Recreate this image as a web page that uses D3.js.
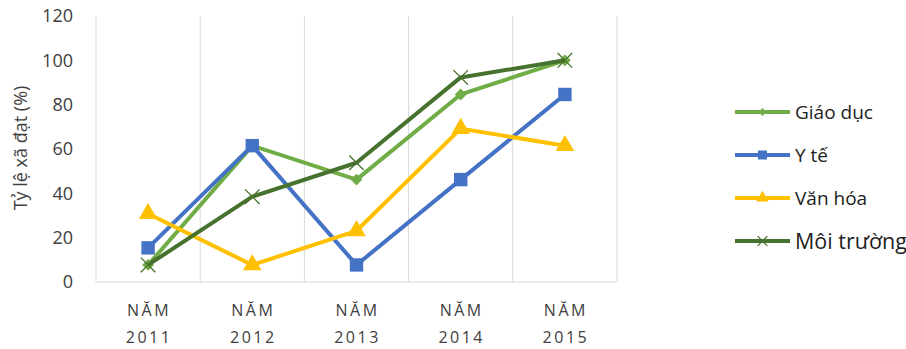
<!DOCTYPE html>
<html>
<head>
<meta charset="utf-8">
<script src="https://cdn.jsdelivr.net/npm/d3@7"></script>
<style>
  body { margin: 0; background: #fff; }
  text { font-family: "Open Sans", "DejaVu Sans", sans-serif; fill: #404040; }
</style>
</head>
<body>
<div id="chart"></div>
<script>
const years = ["2011", "2012", "2013", "2014", "2015"];
const yTicks = [0, 20, 40, 60, 80, 100, 120];
const giaoDuc = [7.7, 61.5, 46.2, 84.6, 100];
const yTe = [15.4, 61.5, 7.7, 46.2, 84.6];
const vanHoa = [30.8, 7.7, 23.1, 69.2, 61.5];
const moiTruong = [7.7, 38.5, 53.8, 92.3, 100];

const series = [
    { name: "Giáo dục", values: giaoDuc, color: "#70AD47", symbol: d3.symbolDiamond2, size: 90, fill: true, fs: 19 },
    { name: "Y tế", values: yTe, color: "#4472C4", symbol: d3.symbolSquare, size: 180, fill: true, fs: 19 },
    { name: "Văn hóa", values: vanHoa, color: "#FFC000", symbol: d3.symbolTriangle, size: 150, fill: true, fs: 19 },
    { name: "Môi trường", values: moiTruong, color: "#47722E", symbol: d3.symbolX, size: 140, fill: false, fs: 21.5 }
];

const width = 906, height = 349;
const margin = { left: 96, right: 289, top: 16, bottom: 67 };

const svg = d3.select("#chart").append("svg")
    .attr("width", width).attr("height", height);

const x = d3.scaleBand().domain(years).range([margin.left, width - margin.right]);
const y = d3.scaleLinear().domain([0, 120]).range([height - margin.bottom, margin.top]);

// vertical gridlines between categories
svg.append("g").selectAll("line")
    .data(years.slice(1))
    .join("line")
    .attr("x1", d => x(d)).attr("x2", d => x(d))
    .attr("y1", y(120)).attr("y2", y(0))
    .attr("stroke", "#d9d9d9").attr("stroke-width", 1);

// plot borders
svg.append("line")
    .attr("x1", margin.left).attr("x2", margin.left)
    .attr("y1", y(120)).attr("y2", y(0))
    .attr("stroke", "#d9d9d9");
svg.append("line")
    .attr("x1", width - margin.right).attr("x2", width - margin.right)
    .attr("y1", y(120)).attr("y2", y(0))
    .attr("stroke", "#d9d9d9");
svg.append("line")
    .attr("x1", margin.left).attr("x2", width - margin.right)
    .attr("y1", y(0)).attr("y2", y(0))
    .attr("stroke", "#d9d9d9");

// y axis labels
svg.append("g").selectAll("text")
    .data(yTicks)
    .join("text")
    .attr("x", 73).attr("y", d => y(d))
    .attr("text-anchor", "end").attr("dy", "0.35em")
    .style("font-size", "18px")
    .text(d => d);

svg.append("text")
    .attr("transform", "translate(21," + 148 + ") rotate(-90)")
    .attr("text-anchor", "middle").attr("dy", "0.35em")
    .style("font-size", "18px")
    .text("Tỷ lệ xã đạt (%)");

// x axis labels
const xl = svg.append("g").selectAll("text")
    .data(years)
    .join("text")
    .attr("text-anchor", "middle")
    .style("font-size", "16px")
    .style("letter-spacing", "2.5px");
xl.append("tspan")
    .attr("x", d => x(d) + x.bandwidth() / 2 + 1).attr("y", 316)
    .text("NĂM");
xl.append("tspan")
    .attr("x", d => x(d) + x.bandwidth() / 2 + 1).attr("y", 343)
    .text(d => d);

const line = d3.line()
    .x((d, i) => x(years[i]) + x.bandwidth() / 2)
    .y(d => y(d));

for (const s of series) {
    const g = svg.append("g");
    g.append("path")
        .attr("d", line(s.values))
        .attr("fill", "none")
        .attr("stroke", s.color)
        .attr("stroke-width", 4)
        .attr("stroke-linejoin", "round");
    g.selectAll("path.m")
        .data(s.values)
        .join("path")
        .attr("class", "m")
        .attr("transform", (d, i) => "translate(" + (x(years[i]) + x.bandwidth() / 2) + "," + y(d) + ")")
        .attr("d", d3.symbol().type(s.symbol).size(s.size))
        .attr("fill", s.fill ? s.color : "none")
        .attr("stroke", s.color)
        .attr("stroke-width", s.fill ? 0 : 1.3);
}

// legend
const legendRows = [112, 155, 198, 241];
const lg = svg.append("g").selectAll("g")
    .data(series)
    .join("g")
    .attr("transform", (d, i) => "translate(735," + legendRows[i] + ")");
lg.append("line")
    .attr("x1", 0).attr("x2", 55)
    .attr("stroke", d => d.color).attr("stroke-width", 4);
lg.append("path")
    .attr("transform", "translate(27.5,0)")
    .attr("d", d => d3.symbol().type(d.symbol).size(d.size * 0.45)())
    .attr("fill", d => d.fill ? d.color : "none")
    .attr("stroke", d => d.color)
    .attr("stroke-width", d => d.fill ? 0 : 1.3);
lg.append("text")
    .attr("x", 60).attr("dy", "0.35em")
    .style("font-size", d => d.fs + "px")
    .style("fill", "#222")
    .text(d => d.name);
</script>
</body>
</html>
